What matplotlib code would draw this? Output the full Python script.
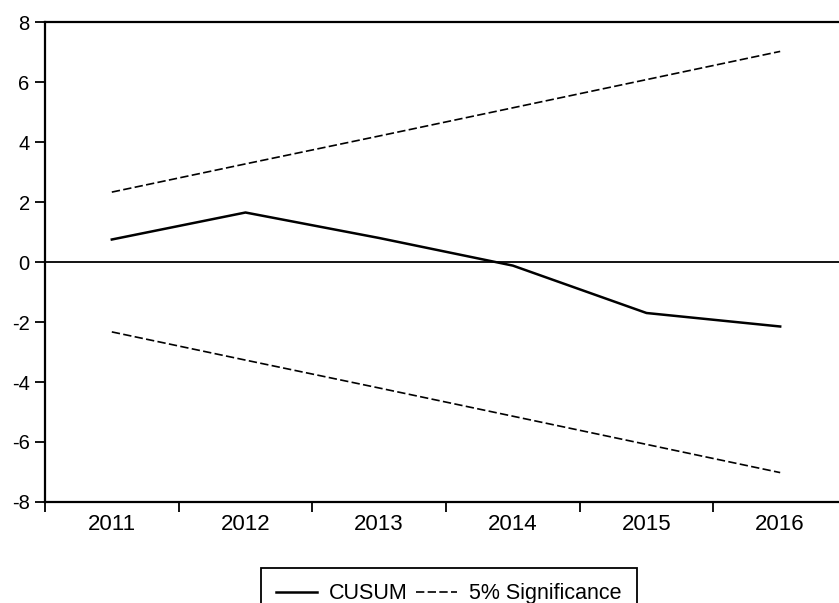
import matplotlib
matplotlib.use("Agg")
import matplotlib.pyplot as plt

plt.rcParams['font.family'] = ['Liberation Sans', 'DejaVu Sans']
plt.rcParams['axes.unicode_minus'] = False

years = ['2011', '2012', '2013', '2014', '2015', '2016']
cusum = [0.75, 1.65, 0.8, -0.12, -1.7, -2.15]
upper = [2.33, 3.27, 4.2, 5.14, 6.08, 7.02]
lower = [-2.33, -3.27, -4.2, -5.14, -6.08, -7.02]

fig = plt.figure(figsize=(8.39, 6.03), dpi=100)
ax = fig.add_axes([0.0536, 0.1675, 0.9464, 0.796])

x = list(range(len(years)))
ax.plot(x, cusum, color='black', lw=1.8, label='CUSUM')
ax.plot(x, upper, color='black', lw=1.2, ls=(0, (5, 2)), label='5% Significance')
ax.plot(x, lower, color='black', lw=1.2, ls=(0, (5, 2)))
ax.axhline(0, color='black', lw=1.3)

ax.set_ylim(-8, 8)
ax.set_yticks(range(-8, 9, 2))
ax.set_xlim(-0.5, 5.44)
ax.set_xticks([i - 0.5 for i in range(6)])
ax.set_xticklabels([])
ax.set_xticks(x, minor=True)
ax.set_xticklabels(years, minor=True)
ax.tick_params(axis='x', which='major', direction='out', length=7, width=1.3)
ax.tick_params(axis='x', which='minor', length=0, labelsize=16, pad=9)
ax.tick_params(axis='y', direction='out', length=7, width=1.3, labelsize=14.5, pad=4)

for s in ['left', 'bottom', 'top']:
    ax.spines[s].set_linewidth(1.6)
ax.spines['right'].set_visible(False)

leg = fig.legend(loc='upper center', bbox_to_anchor=(0.535, 0.058), ncol=2,
                 fontsize=15.5, frameon=True, fancybox=False, edgecolor='black',
                 framealpha=1, handlelength=1.9, columnspacing=0.4,
                 handletextpad=0.55, borderpad=0.7, borderaxespad=0)
leg.get_frame().set_linewidth(1.3)

fig.savefig('out.png', dpi=100)
